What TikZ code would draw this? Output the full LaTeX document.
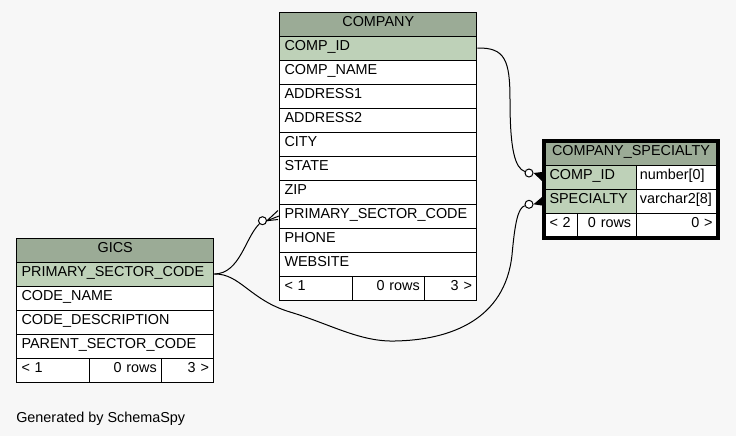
\documentclass[tikz,border=0pt]{standalone}
\usepackage{fontspec}
\setmainfont{Liberation Sans}
\usetikzlibrary{positioning, fit}
\definecolor{headgreen}{HTML}{9BAB96}
\definecolor{keygreen}{HTML}{BED1B8}
\definecolor{paper}{HTML}{F7F7F7}
\newcommand{\erfont}{\fontsize{10.8pt}{13pt}\selectfont}
\tikzset{
  cell/.style={draw, anchor=north west, minimum height=18pt, inner xsep=3.75pt, inner ysep=0pt,
    text height=8pt, text depth=4.3pt, font=\erfont, line width=0.75pt},
  head/.style={cell, fill=headgreen, text width=#1, align=center},
  key/.style={cell, fill=keygreen, text width=#1, align=left},
  field/.style={cell, fill=white, text width=#1, align=left},
  type/.style={field=#1, inner xsep=2.7pt},
  lcount/.style={field=#1},
  rcount/.style={cell, fill=white, text width=#1, align=right},
  link/.style={line width=0.75pt},
  opt/.style={circle, draw, fill=white, inner sep=0pt, minimum size=6pt, line width=0.75pt}
}
\begin{document}
\begin{tikzpicture}[x=0.75pt, y=-0.75pt]
  \fill[paper] (0,0) rectangle (736,436);

  \node[head=140.6pt] (coHead) at (279,11.5) {COMPANY};
  \node[key=140.6pt] (coCompID) at (279,35.5) {COMP\_ID};
  \node[field=140.6pt] (coName) at (279,59.5) {COMP\_NAME};
  \node[field=140.6pt] (coAddr1) at (279,83.5) {ADDRESS1};
  \node[field=140.6pt] (coAddr2) at (279,107.5) {ADDRESS2};
  \node[field=140.6pt] (coCity) at (279,131.5) {CITY};
  \node[field=140.6pt] (coState) at (279,155.5) {STATE};
  \node[field=140.6pt] (coZip) at (279,179.5) {ZIP};
  \node[field=140.6pt] (coPSC) at (279,203.5) {PRIMARY\_SECTOR\_CODE};
  \node[field=140.6pt] (coPhone) at (279,227.5) {PHONE};
  \node[field=140.6pt] (coWeb) at (279,251.5) {WEBSITE};
  \node[lcount=47pt] (coPrev) at (279,275.5) {< 1};
  \node[rcount=47pt] (coRows) at (351.67,275.5) {0 rows};
  \node[rcount=31.6pt] (coNext) at (424.33,275.5) {3 >};

  \node[head=140.6pt] (gcHead) at (16,237.5) {GICS};
  \node[key=140.6pt] (gcPSC) at (16,261.5) {PRIMARY\_SECTOR\_CODE};
  \node[field=140.6pt] (gcName) at (16,285.5) {CODE\_NAME};
  \node[field=140.6pt] (gcDesc) at (16,309.5) {CODE\_DESCRIPTION};
  \node[field=140.6pt] (gcParent) at (16,333.5) {PARENT\_SECTOR\_CODE};
  \node[lcount=47pt] (gcPrev) at (16,357.5) {< 1};
  \node[rcount=47pt] (gcRows) at (88.67,357.5) {0 rows};
  \node[rcount=31.6pt] (gcNext) at (161.33,357.5) {3 >};

  \node[head=122.25pt] (spHead) at (544,141) {COMPANY\_SPECIALTY};
  \node[key=61.3pt] (spCompID) at (544,165) {COMP\_ID};
  \node[type=55.6pt] (spCompIDType) at (635.7,165) {number[0]};
  \node[key=61.3pt] (spSpec) at (544,189) {SPECIALTY};
  \node[type=55.6pt] (spSpecType) at (635.7,189) {varchar2[8]};
  \node[lcount=17.5pt] (spPrev) at (544,213) {< 2};
  \node[rcount=36.3pt] (spRows) at (577.3,213) {0 rows};
  \node[rcount=53.5pt] (spNext) at (635.7,213) {0 >};
  \node[fit=(spHead)(spNext), draw, line width=3pt, inner sep=0pt] (spFrame) {};

  \node[opt] (optCompID) at (529,173) {};
  \node[opt] (optSector) at (262.5,220.7) {};
  \node[opt] (optSpec) at (529,204.3) {};

  \draw[link] (coCompID.east) .. controls (505,47.5) and (510,60) .. (510,100)
    .. controls (510,150) and (515,168) .. (optCompID);
  \draw[link] (gcPSC.east) .. controls (240,273.5) and (245,238) .. (optSector);
  \draw[link] (gcPSC.east) .. controls (240,273.5) and (250,300) .. (290,312)
    .. controls (330,324) and (360,342) .. (395,341)
    .. controls (450,340) and (505,320) .. (512,255)
    .. controls (515,222) and (518,208) .. (optSpec);

  \fill (optCompID.east) -- ([shift={(-2,-5.5)}]spCompID.west) -- ([shift={(-2,3.5)}]spCompID.west) -- cycle;
  \fill (optSpec.east) -- ([shift={(-2,-4.5)}]spSpec.west) -- ([shift={(-2,4)}]spSpec.west) -- cycle;
  \draw[link] ([shift={(-1,-5.5)}]coPSC.west) -- (optSector.east) -- ([shift={(-1,3.5)}]coPSC.west);
  \draw[link] (optSector.east) -- (coPSC.west);

  \node[anchor=base west, inner sep=0pt, font=\erfont] (credit) at (16,422.5) {Generated by SchemaSpy};
\end{tikzpicture}
\end{document}
